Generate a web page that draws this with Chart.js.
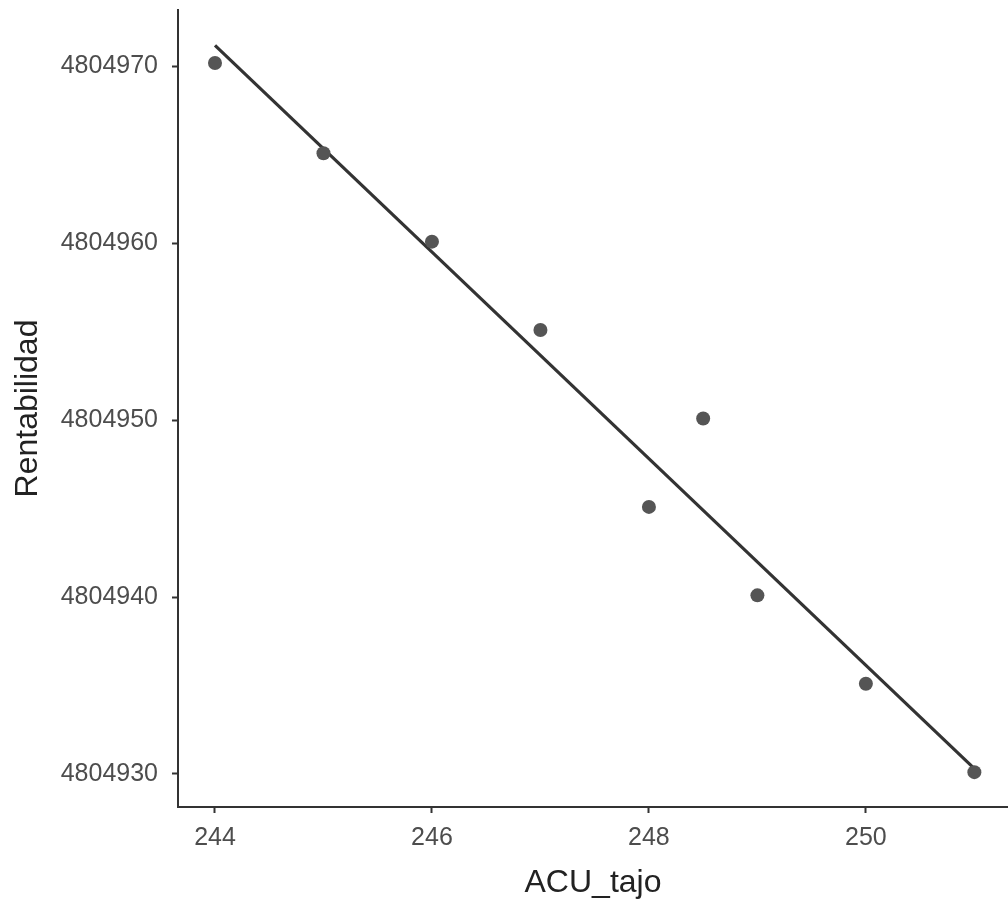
<!DOCTYPE html>
<html>
<head>
<meta charset="utf-8">
<script src="https://cdn.jsdelivr.net/npm/chart.js@4"></script>
<style>
  html, body { margin: 0; padding: 0; background: #fff; }
  #wrap { width: 1008px; height: 904px; }
</style>
</head>
<body>
<div id="wrap"><canvas id="chart" width="1008" height="904"></canvas></div>
<script>
const acuTajo = [244, 245, 246, 247, 248, 248.5, 249, 250, 251];
const rentabilidad = [4804970.2, 4804965.1, 4804960.1, 4804955.1, 4804945.1, 4804950.1, 4804940.1, 4804935.1, 4804930.1];

// fitted line end points
const fitX = [244, 251];
const fitY = [4804971.2, 4804930.3];

const xTicks = [244, 246, 248, 250];
const yTicks = [4804930, 4804940, 4804950, 4804960, 4804970];

const fontFamily = "'Liberation Sans', Arial, sans-serif";

// keep the plot box where the reference has it: no extra label padding
function noPad(scale) {
  scale.paddingTop = 0;
  scale.paddingBottom = 0;
  scale.paddingLeft = 0;
  scale.paddingRight = 0;
}

new Chart(document.getElementById("chart"), {
  type: "scatter",
  data: {
    datasets: [
      {
        label: "Rentabilidad",
        data: acuTajo.map((x, i) => ({ x, y: rentabilidad[i] })),
        pointRadius: 7,
        pointHoverRadius: 7,
        pointBackgroundColor: "#555555",
        pointBorderWidth: 0,
        order: 0,
      },
      {
        label: "fit",
        type: "line",
        data: fitX.map((x, i) => ({ x, y: fitY[i] })),
        borderColor: "#333333",
        borderWidth: 3.2,
        pointRadius: 0,
        fill: false,
        order: 1,
      },
    ],
  },
  options: {
    responsive: false,
    animation: false,
    layout: { autoPadding: false, padding: { top: 10, right: 0, left: 0, bottom: 0 } },
    plugins: {
      legend: { display: false },
      tooltip: { enabled: false },
    },
    scales: {
      x: {
        type: "linear",
        min: 243.659,
        max: 251.31,
        afterBuildTicks: (scale) => {
          scale.ticks = xTicks.map((v) => ({ value: v }));
        },
        afterFit: (scale) => {
          scale.height = 97;
          noPad(scale);
        },
        grid: {
          drawOnChartArea: false,
          drawTicks: true,
          tickLength: 6,
          tickWidth: 2,
          tickColor: "#333333",
        },
        border: { display: true, color: "#333333", width: 2 },
        ticks: {
          color: "#4d4d4d",
          padding: 10,
          font: { family: fontFamily, size: 25 },
        },
        title: {
          display: true,
          text: "ACU_tajo",
          color: "#222222",
          padding: { bottom: 2 },
          font: { family: fontFamily, size: 32 },
        },
      },
      y: {
        type: "linear",
        min: 4804928.13,
        max: 4804973.2,
        afterBuildTicks: (scale) => {
          scale.ticks = yTicks.map((v) => ({ value: v }));
        },
        afterFit: (scale) => {
          scale.width = 178;
          noPad(scale);
        },
        grid: {
          drawOnChartArea: false,
          drawTicks: true,
          tickLength: 6,
          tickWidth: 2,
          tickColor: "#333333",
        },
        border: { display: true, color: "#333333", width: 2 },
        ticks: {
          color: "#4d4d4d",
          padding: 14,
          font: { family: fontFamily, size: 25 },
          callback: (v) => String(v),
        },
        title: {
          display: true,
          text: "Rentabilidad",
          color: "#222222",
          padding: { top: 9 },
          font: { family: fontFamily, size: 32 },
        },
      },
    },
  },
});
</script>
</body>
</html>
